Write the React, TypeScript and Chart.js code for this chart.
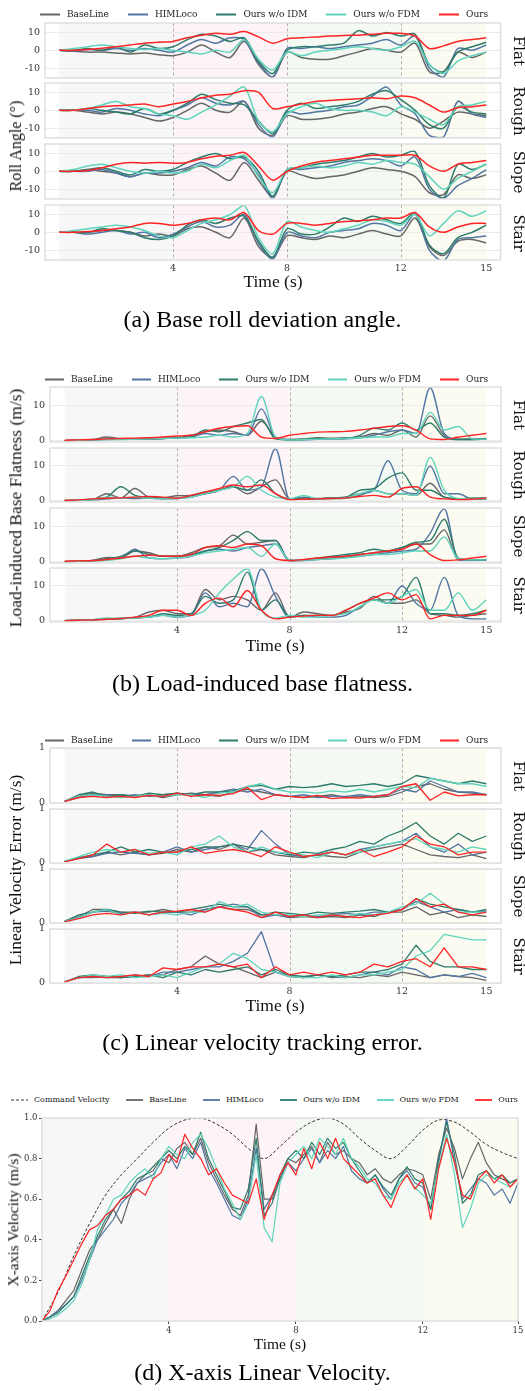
import React, { useEffect, useRef } from "react";
import { Chart, registerables } from "chart.js";
Chart.register(...registerables);

// ---------------- data ----------------
const TIME = [0, 0.5, 1, 1.5, 2, 2.5, 3, 3.5, 4, 4.5, 5, 5.5, 6, 6.5, 7, 7.5, 8, 8.5, 9, 9.5, 10, 10.5, 11, 11.5, 12, 12.5, 13, 13.5, 14, 14.5, 15];
const TIME_D = [0, 0.25, 0.5, 0.75, 1, 1.25, 1.5, 1.75, 2, 2.25, 2.5, 2.75, 3, 3.25, 3.5, 3.75, 4, 4.25, 4.5, 4.75, 5, 5.25, 5.5, 5.75, 6, 6.25, 6.5, 6.75, 7, 7.25, 7.5, 7.75, 8, 8.25, 8.5, 8.75, 9, 9.25, 9.5, 9.75, 10, 10.25, 10.5, 10.75, 11, 11.25, 11.5, 11.75, 12, 12.25, 12.5, 12.75, 13, 13.25, 13.5, 13.75, 14, 14.25, 14.5, 14.75, 15];
const X_TICKS = [4, 8, 12, 15];
const PHASES = [0, 4, 8, 12, 15];
const SERIES = ["BaseLine", "HIMLoco", "Ours w/o IDM", "Ours w/o FDM", "Ours"];
const TERRAINS = ["Flat", "Rough", "Slope", "Stair"];
const ROLL_TICKS = [-10, 0, 10];
const FLAT_TICKS = [0, 10];
const ERR_TICKS = [0, 1];
const VEL_TICKS = [0, 0.2, 0.4, 0.6, 0.8, 1.0];

// (a) roll angle (deg)
const rollFlatBase = [0, -0.5, -1, -1, -1.5, -2, -1.5, -2.5, -3, -1, 3, -1, -4, 5, -8, -15, -1, -4, -5, -5, -3, -1, 1, 0, -1, 4, -12, -12, -1, -4, -1];
const rollFlatHim = [0, -0.5, 0.5, 0, 1, 0, 1, 0, -1, 3, 6, 4, 7, 6, -7, -15, 1, 1, 2, 1, 2, 3, 4, 6, 3, 8, -10, -15, 1, 0, 3];
const rollFlatIdm = [0, 0, 1, 0, 2, -1, 3, 1, 2, 6, 9, 8, 5, 7, -6, -13, 0, 2, 2, 3, 4, 11, 8, 10, 8, 9, -8, -12, -1, 2, 4.5];
const rollFlatFdm = [0, 1, 2, 3, 2, 1, 0.5, 1, 0, -1, -2, 0, -1, 6, -5, -11, -1, -3, -1, 0, 1, 2, 1, 0, 2, 5, -8, -13, -6, -3, -1];
const rollFlatOurs = [0, 0, 0.5, 1.2, 2, 3, 4, 4.5, 5, 7, 8.5, 9.5, 9, 10.5, 7.5, 4, 6.5, 7, 7.5, 8, 8.3, 8.5, 9, 9.5, 9.5, 8, 1, 2.5, 5, 6, 7];

const rollRoughBase = [0, 0, -1, -2, -1, -2, -4, -6, -4, 0, 4, 0, -1, 5, -10, -14, -3, -5, -5, -4, -2, -1, 1, 2, -2, -5, -10, -6, -1, -2, -3];
const rollRoughHim = [0, 0, 0, -1, 1, 0, -2, -3, 0, 3, 7, 4, 3, 5, -8, -15, -1, -2, -1, 0, 2, 3, 8, 13, 3, -2, -14, -15, 5, -2, -4];
const rollRoughIdm = [0, 0, 1, 0, -1, -2, 1, -2, 0, 4, 9, 6, 4, 3, -6, -13, 0, 4, 1, 2, 3, 5, 9, 11, 6, 0, -8, -10, 2, -1, -2];
const rollRoughFdm = [0, 0, 1, 3, 5, 2, 1, -2, -3, -5, -1, 3, 8, 13, -6, -12, -2, 2, 4, 1, 0, 0, -1, -3, 2, -1, -5, -8, 2, 3, 5];
const rollRoughOurs = [0, 0, 1, 2, 2.5, 3, 3.5, 2, 3.5, 5, 7, 8.5, 9, 11, 10, 1, 2, 3.5, 5, 5.5, 6, 6.5, 7, 6.5, 8, 7, 3, -1, 1.5, 2, 3];

const rollSlopeBase = [0, 0, 1, 0, -1, -3, -1, -2, -2, 1, 3, -1, -5, 5, -5, -14, 0, -2, -4, -3, -2, 0, 2, 1, 0, -3, -12, -13, -2, -4, -2];
const rollSlopeHim = [0, 0, 0, 1, -1, -3, -1, -1, 0, 2, 5, 3, 8, 7, -2, -15, 1, 1, 2, 3, 5, 6, 7, 6, 3, 8, -10, -15, -8, -4, 1];
const rollSlopeIdm = [0, 0, 1, 2, 0, -2, 1, 0, 1, 5, 8, 10, 7, 8, 0, -14, 1, 2, 4, 5, 6, 8, 10, 8, 9, 11, -8, -15, 4, 1, 4];
const rollSlopeFdm = [0, 1, 3, 4, 2, 0, -1, 0, -1, 0, 4, 2, 6, 9, -3, -12, 1, 2, 3, 2, 3, 5, 4, 6, 5, 4, -3, -10, -4, 0, 4];
const rollSlopeOurs = [0, 0, 0.5, 2, 4, 5, 4.5, 5, 4.5, 5, 7, 8.5, 9, 10.5, 3, -5, 0, 3, 5, 6, 7, 8, 9, 9, 9, 9, 3, 0, 4, 5, 6];

const rollStairBase = [0, 0, 0, 1, 1, 0, -2, -1, -2, 2, 3, 0, -3, 8, -8, -14, -2, -3, -4, -2, -3, -1, 1, -1, -2, 8, -8, -13, -5, -4, -6];
const rollStairHim = [0, 0, -1, 0, 1, -1, 0, -3, -1, 3, 6, 3, 4, 10, -6, -15, 0, -2, -3, 0, 1, 2, 5, 4, 1, 10, -10, -16, -4, -3, -2];
const rollStairIdm = [0, 0, 0, 2, 1, 0, -3, -4, -2, 4, 7, 5, 8, 9, -5, -14, 2, -1, -1, 3, 8, 6, 9, 7, 5, 11, -7, -12, -3, 0, 4];
const rollStairFdm = [0, 1, 2, 3, 4, 3, 1, -2, -3, 1, 5, 7, 10, 15, -3, -12, 6, 3, 1, 0, 2, 4, 7, 6, 4, 10, -2, 5, 12, 9, 12];
const rollStairOurs = [0, 0, 0.5, 1, 2, 3, 5, 5, 4, 5, 7, 8, 7, 11, 1, -1, 5, 5, 4, 5, 6, 6.5, 7, 8, 8, 11, 3, 0, 3, 5, 5];

// (b) load-induced base flatness
const flatFlatBase = [0, 0.1, 0.3, 1, 0.5, 0.4, 0.5, 0.6, 0.8, 1.5, 2.5, 3, 2.5, 1.5, 5.5, 1, 0.3, 0.5, 0.8, 0.7, 0.8, 1, 2, 1.5, 3, 1, 7, 1.5, 0.4, 0.5, 0.6];
const flatFlatHim = [0, 0.1, 0.2, 0.3, 0.4, 0.5, 0.5, 0.6, 0.8, 1, 2, 1.5, 2, 1.5, 9, 1, 0.3, 0.2, 0.4, 0.5, 0.5, 0.8, 1.5, 2.5, 3, 2, 15, 2, 0.3, 0.3, 0.5];
const flatFlatIdm = [0, 0.1, 0.2, 0.5, 0.4, 0.4, 0.5, 0.6, 0.8, 1, 3, 2.5, 4, 5, 6, 0.5, 0.2, 0.3, 0.6, 0.5, 0.6, 1.5, 3.5, 3, 5, 3, 5, 1, 0.3, 0.3, 0.4];
const flatFlatFdm = [0, 0.1, 0.2, 0.3, 0.3, 0.4, 0.5, 0.6, 0.7, 0.8, 1, 1.5, 1, 2, 12.5, 1, 0.2, 0.3, 0.4, 0.5, 0.6, 0.8, 1, 1, 2, 2, 8, 3, 4, 0.5, 0.4];
const flatFlatOurs = [0.1, 0.2, 0.3, 0.5, 0.6, 0.7, 0.8, 1, 1.3, 1.5, 2.5, 3.5, 4, 4.2, 1, 0.6, 1.5, 2, 2.4, 2.5, 2.6, 3, 3.5, 4, 4.2, 3, 0.5, 0.3, 1, 1.5, 2];

const flatRoughBase = [0, 0.1, 0.3, 2, 0.8, 3.5, 1, 0.8, 1.4, 1.5, 2, 3, 4, 2, 4, 6, 0.5, 0.4, 0.5, 0.6, 0.7, 1.5, 3, 2, 2, 1.5, 5, 1, 0.5, 0.4, 0.5];
const flatRoughHim = [0, 0.1, 0.2, 0.5, 0.8, 0.6, 0.7, 0.5, 0.6, 1, 2, 3, 7, 3, 4, 15, 0.5, 1, 0.5, 0.8, 1, 2, 3, 11.5, 3, 2, 10, 2, 2, 0.5, 0.8];
const flatRoughIdm = [0, 0.1, 0.5, 1, 4, 1.5, 1, 0.8, 0.7, 1.5, 2.5, 3, 4, 3, 6, 2, 0.5, 0.8, 0.6, 0.8, 1, 3, 3.5, 6.5, 8, 3, 3, 1, 0.5, 0.8, 0.6];
const flatRoughFdm = [0, 0.1, 0.2, 1, 0.8, 1, 0.7, 0.5, 0.6, 1, 2, 3, 4, 7, 3, 1, 0.5, 1.5, 0.5, 0.6, 0.8, 2, 3, 2, 2, 1.5, 12.5, 3, 0.6, 0.5, 0.7];
const flatRoughOurs = [0.1, 0.2, 0.5, 0.7, 0.8, 1, 1.2, 1, 0.7, 1.5, 2.5, 3.5, 4.5, 4, 4.5, 2, 0.3, 0.4, 0.5, 0.6, 0.8, 1.2, 1.5, 1, 3.5, 4, 1, 0.5, 0.3, 0.4, 0.8];

const flatSlopeBase = [0, 0.1, 0.3, 1.2, 1, 3, 2.5, 1.5, 1.5, 2.5, 4, 4.5, 7.5, 5, 5.5, 6, 0.3, 0.5, 0.8, 1, 1.5, 2, 2.5, 3, 4, 5, 5, 9, 0.5, 0.5, 0.4];
const flatSlopeHim = [0, 0.1, 0.2, 0.5, 1, 3.5, 1, 0.8, 1, 1.5, 3, 3.5, 3, 4, 4.5, 5, 0.2, 0.3, 0.6, 0.8, 1.2, 1.5, 2, 2.5, 3, 3.5, 8, 15, 0.5, 0.4, 0.5];
const flatSlopeIdm = [0, 0.1, 0.3, 0.8, 1.5, 3, 2, 1.5, 1.5, 2, 3, 4, 6, 8.5, 6, 6, 0.3, 0.5, 1, 1.5, 2, 2.5, 3.5, 3, 4, 5.5, 6, 12, 1, 0.5, 0.6];
const flatSlopeFdm = [0, 0.1, 0.2, 0.4, 0.8, 1.5, 1, 0.8, 1, 1.5, 2.5, 3, 3.5, 4, 1.5, 5, 0.5, 0.4, 0.6, 0.8, 1, 1.5, 2, 2, 2.5, 3, 3, 7, 0.8, 0.5, 0.5];
const flatSlopeOurs = [0.1, 0.2, 0.3, 0.6, 1, 1.5, 1.8, 1.6, 1.5, 2, 4, 4.5, 4, 5, 4.5, 0.8, 0.3, 0.6, 1, 1.3, 1.5, 2, 2.5, 3, 3.5, 5, 2, 0.3, 0.5, 1, 1.5];

const flatStairBase = [0, 0.1, 0.2, 0.5, 0.6, 1, 2.5, 3, 2, 2, 9, 6, 7, 6, 3, 8, 1, 2.5, 2, 1.5, 2.5, 3.5, 7, 5, 5, 6, 2, 1.5, 1, 1.5, 2];
const flatStairHim = [0, 0.1, 0.2, 0.4, 0.5, 0.8, 1, 1.5, 1, 1.5, 8, 4, 5, 4, 15, 7, 1, 1.5, 1, 1, 1.5, 4, 6, 5, 10, 5, 3, 12.5, 1.5, 0.5, 0.5];
const flatStairIdm = [0, 0.1, 0.3, 0.5, 0.6, 0.8, 1, 2, 1.5, 2, 7, 5, 6, 14, 3, 6, 1.2, 1.5, 1.5, 1.5, 3, 5, 6, 6, 7, 12.5, 2, 2, 1.5, 2, 3];
const flatStairFdm = [0, 0.1, 0.3, 0.8, 0.6, 0.8, 1, 1.5, 1, 1.5, 3, 8, 12, 15, 3, 0.8, 1.5, 1, 1, 1.5, 2, 4, 6, 5, 7, 9, 3, 3, 8, 3, 6];
const flatStairOurs = [0, 0.1, 0.2, 0.4, 0.6, 1, 1.5, 3, 3, 1.5, 5, 6.5, 4, 8.7, 3, 0.5, 1, 1.3, 1.5, 1.5, 3, 5, 6.5, 8, 6, 7.5, 0.5, 1.5, 1.5, 1.5, 3];

// (c) linear velocity tracking error (m/s)
const errFlatBase = [0.03, 0.12, 0.18, 0.15, 0.15, 0.12, 0.15, 0.1, 0.15, 0.18, 0.15, 0.12, 0.2, 0.25, 0.2, 0.15, 0.12, 0.1, 0.12, 0.15, 0.1, 0.12, 0.1, 0.12, 0.2, 0.3, 0.35, 0.25, 0.2, 0.18, 0.15];
const errFlatHim = [0.03, 0.1, 0.15, 0.15, 0.12, 0.15, 0.12, 0.15, 0.18, 0.15, 0.15, 0.2, 0.25, 0.2, 0.25, 0.15, 0.12, 0.15, 0.1, 0.12, 0.12, 0.15, 0.12, 0.15, 0.25, 0.2, 0.4, 0.3, 0.2, 0.2, 0.15];
const errFlatIdm = [0.03, 0.15, 0.2, 0.12, 0.15, 0.12, 0.18, 0.15, 0.18, 0.15, 0.2, 0.2, 0.22, 0.3, 0.32, 0.25, 0.3, 0.28, 0.3, 0.35, 0.3, 0.32, 0.35, 0.3, 0.35, 0.5, 0.45, 0.4, 0.35, 0.4, 0.35];
const errFlatFdm = [0.03, 0.12, 0.15, 0.12, 0.1, 0.12, 0.15, 0.12, 0.15, 0.15, 0.1, 0.18, 0.2, 0.3, 0.35, 0.25, 0.2, 0.2, 0.18, 0.22, 0.2, 0.25, 0.2, 0.25, 0.3, 0.28, 0.45, 0.4, 0.35, 0.35, 0.3];
const errFlatOurs = [0.03, 0.1, 0.12, 0.1, 0.12, 0.1, 0.14, 0.12, 0.18, 0.12, 0.15, 0.14, 0.17, 0.28, 0.06, 0.15, 0.12, 0.1, 0.14, 0.08, 0.1, 0.09, 0.12, 0.15, 0.3, 0.35, 0.05, 0.2, 0.13, 0.15, 0.15];

const errRoughBase = [0.03, 0.08, 0.12, 0.2, 0.15, 0.2, 0.15, 0.18, 0.25, 0.2, 0.3, 0.25, 0.35, 0.2, 0.25, 0.15, 0.12, 0.1, 0.15, 0.12, 0.1, 0.2, 0.25, 0.3, 0.35, 0.25, 0.15, 0.12, 0.1, 0.15, 0.08];
const errRoughHim = [0.03, 0.1, 0.12, 0.18, 0.2, 0.18, 0.15, 0.2, 0.3, 0.2, 0.25, 0.3, 0.35, 0.25, 0.6, 0.35, 0.15, 0.12, 0.15, 0.2, 0.15, 0.25, 0.3, 0.35, 0.4, 0.55, 0.3, 0.2, 0.35, 0.15, 0.2];
const errRoughIdm = [0.03, 0.1, 0.15, 0.2, 0.3, 0.2, 0.25, 0.2, 0.2, 0.25, 0.3, 0.3, 0.35, 0.3, 0.25, 0.2, 0.15, 0.2, 0.18, 0.25, 0.3, 0.4, 0.35, 0.5, 0.6, 0.75, 0.5, 0.35, 0.55, 0.4, 0.5];
const errRoughFdm = [0.03, 0.12, 0.2, 0.25, 0.2, 0.25, 0.18, 0.2, 0.15, 0.3, 0.35, 0.5, 0.3, 0.2, 0.3, 0.2, 0.18, 0.15, 0.1, 0.2, 0.15, 0.2, 0.3, 0.35, 0.4, 0.45, 0.3, 0.25, 0.2, 0.3, 0.25];
const errRoughOurs = [0.02, 0.08, 0.15, 0.35, 0.2, 0.25, 0.15, 0.2, 0.2, 0.3, 0.18, 0.22, 0.25, 0.2, 0.12, 0.3, 0.2, 0.12, 0.15, 0.2, 0.15, 0.25, 0.12, 0.2, 0.3, 0.5, 0.35, 0.3, 0.15, 0.2, 0.2];

const errSlopeBase = [0.03, 0.12, 0.25, 0.25, 0.2, 0.2, 0.2, 0.25, 0.2, 0.2, 0.25, 0.3, 0.25, 0.25, 0.15, 0.15, 0.1, 0.12, 0.1, 0.12, 0.1, 0.15, 0.12, 0.2, 0.2, 0.3, 0.15, 0.2, 0.1, 0.15, 0.12];
const errSlopeHim = [0.03, 0.1, 0.2, 0.22, 0.18, 0.2, 0.15, 0.2, 0.2, 0.15, 0.25, 0.3, 0.35, 0.3, 0.1, 0.15, 0.12, 0.15, 0.12, 0.15, 0.18, 0.15, 0.2, 0.2, 0.25, 0.4, 0.3, 0.2, 0.25, 0.2, 0.22];
const errSlopeIdm = [0.03, 0.15, 0.2, 0.25, 0.2, 0.18, 0.22, 0.2, 0.2, 0.25, 0.3, 0.35, 0.3, 0.3, 0.15, 0.2, 0.18, 0.15, 0.2, 0.18, 0.2, 0.22, 0.25, 0.2, 0.25, 0.45, 0.35, 0.3, 0.25, 0.2, 0.25];
const errSlopeFdm = [0.03, 0.1, 0.2, 0.25, 0.15, 0.2, 0.15, 0.18, 0.15, 0.2, 0.2, 0.4, 0.3, 0.35, 0.2, 0.15, 0.15, 0.12, 0.15, 0.15, 0.12, 0.18, 0.15, 0.2, 0.3, 0.35, 0.55, 0.35, 0.2, 0.2, 0.2];
const errSlopeOurs = [0.02, 0.08, 0.15, 0.18, 0.15, 0.2, 0.15, 0.2, 0.22, 0.25, 0.2, 0.3, 0.25, 0.2, 0.1, 0.2, 0.12, 0.15, 0.1, 0.15, 0.12, 0.1, 0.15, 0.18, 0.25, 0.45, 0.3, 0.35, 0.2, 0.15, 0.2];

const errStairBase = [0.02, 0.1, 0.12, 0.1, 0.1, 0.12, 0.15, 0.15, 0.25, 0.3, 0.5, 0.35, 0.3, 0.2, 0.1, 0.2, 0.12, 0.1, 0.15, 0.1, 0.12, 0.1, 0.15, 0.12, 0.2, 0.15, 0.1, 0.15, 0.12, 0.1, 0.05];
const errStairHim = [0.02, 0.1, 0.1, 0.12, 0.1, 0.15, 0.12, 0.2, 0.2, 0.25, 0.3, 0.3, 0.4, 0.55, 0.95, 0.2, 0.15, 0.1, 0.15, 0.12, 0.1, 0.15, 0.2, 0.15, 0.3, 0.25, 0.1, 0.15, 0.12, 0.18, 0.1];
const errStairIdm = [0.02, 0.12, 0.15, 0.12, 0.1, 0.12, 0.15, 0.1, 0.2, 0.15, 0.25, 0.2, 0.25, 0.3, 0.15, 0.25, 0.15, 0.12, 0.15, 0.12, 0.15, 0.2, 0.2, 0.25, 0.35, 0.7, 0.4, 0.3, 0.3, 0.25, 0.25];
const errStairFdm = [0.02, 0.1, 0.15, 0.12, 0.15, 0.1, 0.12, 0.15, 0.1, 0.2, 0.3, 0.35, 0.55, 0.45, 0.25, 0.2, 0.12, 0.1, 0.1, 0.15, 0.1, 0.15, 0.15, 0.2, 0.25, 0.5, 0.6, 0.9, 0.85, 0.8, 0.8];
const errStairOurs = [0.02, 0.1, 0.12, 0.1, 0.12, 0.15, 0.12, 0.28, 0.25, 0.3, 0.3, 0.35, 0.3, 0.35, 0.1, 0.3, 0.15, 0.2, 0.15, 0.2, 0.15, 0.2, 0.35, 0.3, 0.4, 0.45, 0.3, 0.65, 0.3, 0.3, 0.25];

// (d) x-axis linear velocity (m/s)
const velCommand = [0, 0.14, 0.32, 0.48, 0.62, 0.72, 0.8, 0.88, 0.95, 0.99, 1.0, 0.97, 0.92, 0.85, 0.8, 0.86, 0.93, 0.98, 1.0, 0.97, 0.9, 0.84, 0.8, 0.86, 0.94, 0.99, 0.98, 0.93, 0.87, 0.83, 0.8];
const velBase = [0, 0.02, 0.05, 0.1, 0.15, 0.25, 0.35, 0.4, 0.48, 0.55, 0.48, 0.6, 0.68, 0.72, 0.74, 0.8, 0.78, 0.85, 0.88, 0.82, 0.9, 0.78, 0.7, 0.62, 0.55, 0.52, 0.62, 0.97, 0.6, 0.6, 0.72, 0.8, 0.78, 0.82, 0.86, 0.78, 0.88, 0.82, 0.84, 0.8, 0.78, 0.72, 0.75, 0.7, 0.68, 0.72, 0.75, 0.74, 0.72, 0.6, 0.82, 0.95, 0.85, 0.7, 0.8, 0.88, 0.78, 0.72, 0.7, 0.68, 0.7];
const velHim = [0, 0.02, 0.05, 0.08, 0.12, 0.2, 0.3, 0.4, 0.45, 0.5, 0.58, 0.62, 0.68, 0.7, 0.72, 0.78, 0.82, 0.75, 0.85, 0.8, 0.88, 0.75, 0.68, 0.6, 0.52, 0.5, 0.6, 0.85, 0.55, 0.62, 0.7, 0.78, 0.74, 0.8, 0.85, 0.78, 0.84, 0.8, 0.86, 0.74, 0.7, 0.68, 0.72, 0.65, 0.6, 0.7, 0.74, 0.68, 0.66, 0.55, 0.78, 1.0, 0.78, 0.6, 0.65, 0.7, 0.68, 0.62, 0.65, 0.58, 0.68];
const velIdm = [0, 0.02, 0.04, 0.08, 0.12, 0.22, 0.32, 0.42, 0.5, 0.55, 0.6, 0.64, 0.7, 0.72, 0.76, 0.8, 0.84, 0.8, 0.86, 0.82, 0.93, 0.8, 0.72, 0.64, 0.56, 0.55, 0.65, 0.9, 0.52, 0.58, 0.7, 0.8, 0.84, 0.8, 0.88, 0.82, 0.9, 0.85, 0.88, 0.8, 0.74, 0.68, 0.72, 0.66, 0.62, 0.7, 0.76, 0.7, 0.68, 0.55, 0.8, 0.98, 0.82, 0.58, 0.62, 0.72, 0.74, 0.7, 0.72, 0.68, 0.7];
const velFdm = [0, 0.01, 0.03, 0.06, 0.1, 0.18, 0.3, 0.45, 0.52, 0.6, 0.62, 0.68, 0.72, 0.75, 0.7, 0.8, 0.86, 0.82, 0.8, 0.88, 0.92, 0.85, 0.75, 0.65, 0.58, 0.5, 0.58, 0.82, 0.46, 0.39, 0.68, 0.78, 0.82, 0.86, 0.8, 0.9, 0.86, 0.82, 0.9, 0.8, 0.76, 0.7, 0.68, 0.62, 0.6, 0.68, 0.72, 0.66, 0.62, 0.58, 0.76, 0.92, 0.72, 0.46, 0.55, 0.68, 0.72, 0.7, 0.68, 0.66, 0.7];
const velOurs = [0, 0.05, 0.15, 0.22, 0.3, 0.38, 0.45, 0.47, 0.52, 0.55, 0.6, 0.62, 0.65, 0.62, 0.7, 0.73, 0.82, 0.78, 0.92, 0.85, 0.8, 0.72, 0.75, 0.68, 0.62, 0.6, 0.58, 0.7, 0.5, 0.62, 0.72, 0.78, 0.72, 0.85, 0.75, 0.88, 0.8, 0.9, 0.8, 0.76, 0.72, 0.68, 0.7, 0.62, 0.56, 0.66, 0.72, 0.65, 0.7, 0.5, 0.75, 0.9, 0.78, 0.62, 0.6, 0.7, 0.74, 0.68, 0.72, 0.66, 0.7];

const ROLL = [
  [rollFlatBase, rollFlatHim, rollFlatIdm, rollFlatFdm, rollFlatOurs],
  [rollRoughBase, rollRoughHim, rollRoughIdm, rollRoughFdm, rollRoughOurs],
  [rollSlopeBase, rollSlopeHim, rollSlopeIdm, rollSlopeFdm, rollSlopeOurs],
  [rollStairBase, rollStairHim, rollStairIdm, rollStairFdm, rollStairOurs],
];
const FLATNESS = [
  [flatFlatBase, flatFlatHim, flatFlatIdm, flatFlatFdm, flatFlatOurs],
  [flatRoughBase, flatRoughHim, flatRoughIdm, flatRoughFdm, flatRoughOurs],
  [flatSlopeBase, flatSlopeHim, flatSlopeIdm, flatSlopeFdm, flatSlopeOurs],
  [flatStairBase, flatStairHim, flatStairIdm, flatStairFdm, flatStairOurs],
];
const ERRORS = [
  [errFlatBase, errFlatHim, errFlatIdm, errFlatFdm, errFlatOurs],
  [errRoughBase, errRoughHim, errRoughIdm, errRoughFdm, errRoughOurs],
  [errSlopeBase, errSlopeHim, errSlopeIdm, errSlopeFdm, errSlopeOurs],
  [errStairBase, errStairHim, errStairIdm, errStairFdm, errStairOurs],
];
const VELOCITY = [velBase, velHim, velIdm, velFdm, velOurs];

// ---------------- style ----------------
const W = 525;
const H = 1391;
const LINE_COLORS = ["#666666", "#5176a3", "#2e7c6c", "#5fd4bb", "#ff2424"];
const CMD_COLOR = "#333333";
const BAND_COLORS = ["#f7f7f7", "#fdf4f7", "#f4faf3", "#fbfbf1"];
const BOX_COLOR = "#dddddd";
const TICK_COLOR = "#333333";
const TICK_FONT = "'DejaVu Serif', serif";
const LABEL_FONT = "'Liberation Serif', 'Times New Roman', serif";
const PAD = 10;

type Line = { label: string; times: number[]; values: number[]; color: string; width: number; dash?: number[]; tension: number; mono?: boolean; order: number };
type Spec = {
  top: number; bottom: number; left: number; right: number;
  xMin: number; xMax: number; yMin: number; yMax: number;
  yTicks: number[]; fmt: (v: number) => string;
  showX: boolean; xAxisH: number; tickSize: number; yPad: number; xPad: number;
  tickMarks: boolean; gridY: boolean; dashed: boolean; lines: Line[];
};

function seriesLines(vals: number[][], times: number[], width: number, tension: number, mono: boolean): Line[] {
  return vals.map((v, i) => ({ label: SERIES[i], times, values: v, color: LINE_COLORS[i], width, tension, mono, order: 4 - i }));
}

function Panel({ spec }: { spec: Spec }) {
  const ref = useRef<HTMLCanvasElement | null>(null);
  const h = spec.bottom - spec.top + PAD + (spec.showX ? spec.xAxisH : PAD);
  useEffect(() => {
    if (!ref.current) return;
    const decor = {
      id: "decor",
      beforeDraw(chart: any) {
        const { ctx, chartArea: a } = chart;
        const x = chart.scales.x;
        ctx.save();
        for (let i = 0; i < 4; i++) {
          const x0 = x.getPixelForValue(PHASES[i]);
          const x1 = x.getPixelForValue(PHASES[i + 1]);
          ctx.fillStyle = BAND_COLORS[i];
          ctx.fillRect(x0, a.top, x1 - x0, a.bottom - a.top);
        }
        ctx.restore();
      },
      beforeDatasetsDraw(chart: any) {
        if (!spec.dashed) return;
        const { ctx, chartArea: a } = chart;
        const x = chart.scales.x;
        ctx.save();
        ctx.strokeStyle = "#a8a8a8";
        ctx.lineWidth = 0.9;
        ctx.setLineDash([3, 2.5]);
        for (let i = 1; i < 4; i++) {
          const px = Math.round(x.getPixelForValue(PHASES[i])) + 0.5;
          ctx.beginPath();
          ctx.moveTo(px, a.top);
          ctx.lineTo(px, a.bottom);
          ctx.stroke();
        }
        ctx.restore();
      },
      afterDatasetsDraw(chart: any) {
        const { ctx, chartArea: a } = chart;
        ctx.save();
        ctx.strokeStyle = BOX_COLOR;
        ctx.lineWidth = 1.4;
        ctx.strokeRect(a.left, a.top, a.right - a.left, a.bottom - a.top);
        ctx.restore();
      },
    };
    const chart = new Chart(ref.current, {
      type: "line",
      data: {
        datasets: spec.lines.map((s) => ({
          label: s.label,
          data: s.times.map((t, j) => ({ x: t, y: s.values[j] })),
          borderColor: s.color,
          backgroundColor: s.color,
          borderWidth: s.width,
          borderDash: s.dash || [],
          pointRadius: 0,
          pointHoverRadius: 0,
          fill: false,
          tension: s.tension,
          cubicInterpolationMode: s.mono ? "monotone" : "default",
          order: s.order,
          clip: 0,
          borderJoinStyle: "round",
        })),
      },
      options: {
        animation: false,
        responsive: false,
        maintainAspectRatio: false,
        devicePixelRatio: 1,
        events: [],
        layout: { padding: { left: 0, right: W - spec.right, top: PAD, bottom: spec.showX ? 0 : PAD } },
        plugins: { legend: { display: false }, tooltip: { enabled: false }, title: { display: false } },
        scales: {
          x: {
            type: "linear",
            min: spec.xMin,
            max: spec.xMax,
            display: spec.showX,
            afterBuildTicks: (s: any) => { s.ticks = X_TICKS.map((v) => ({ value: v })); },
            afterFit: (s: any) => { if (spec.showX) s.height = spec.xAxisH; s.paddingLeft = 0; s.paddingRight = 0; },
            ticks: { font: { family: TICK_FONT, size: spec.tickSize }, color: TICK_COLOR, padding: spec.xPad, maxRotation: 0, autoSkip: false, callback: (v: any) => String(v) },
            grid: { display: spec.tickMarks, drawOnChartArea: false, drawTicks: spec.tickMarks, tickLength: 3, tickColor: "#444", color: "#444" },
            border: { display: false },
          },
          y: {
            type: "linear",
            min: spec.yMin,
            max: spec.yMax,
            afterBuildTicks: (s: any) => { s.ticks = spec.yTicks.map((v) => ({ value: v })); },
            afterFit: (s: any) => { s.width = spec.left; s.paddingTop = 0; s.paddingBottom = 0; },
            ticks: { font: { family: TICK_FONT, size: spec.tickSize }, color: TICK_COLOR, padding: spec.yPad, autoSkip: false, callback: (v: any) => spec.fmt(Number(v)) },
            grid: { display: true, drawOnChartArea: spec.gridY, drawTicks: spec.tickMarks, tickLength: 3, tickColor: "#444", color: "#ebebeb", lineWidth: 1 },
            border: { display: false },
          },
        },
      },
      plugins: [decor],
    } as any);
    return () => chart.destroy();
  }, []);
  return (
    <canvas
      ref={ref}
      width={W}
      height={h}
      style={{ position: "absolute", left: 0, top: spec.top - PAD, width: W, height: h }}
    />
  );
}

function Txt({ x, y, size, family, rotate = 0, children, color = "#111" }: any) {
  return (
    <div
      style={{
        position: "absolute",
        left: x,
        top: y,
        transform: `translate(-50%, -50%) rotate(${rotate}deg)`,
        whiteSpace: "nowrap",
        fontFamily: family,
        fontSize: size,
        lineHeight: 1,
        color,
      }}
    >
      {children}
    </div>
  );
}

function Legend({ cy, left, size, lineW, gapLT, gapItem, items }: any) {
  return (
    <div
      style={{
        position: "absolute",
        left,
        top: cy,
        transform: "translateY(-50%)",
        display: "flex",
        alignItems: "center",
        whiteSpace: "nowrap",
        fontFamily: TICK_FONT,
        fontSize: size,
        color: "#222",
        lineHeight: 1,
      }}
    >
      {items.map((it: any, i: number) => (
        <div key={i} style={{ display: "flex", alignItems: "center", marginRight: gapItem }}>
          <svg width={lineW} height={4} style={{ display: "block" }}>
            <line x1={0} y1={2} x2={lineW} y2={2} stroke={it.color} strokeWidth={it.w} strokeDasharray={it.dash ? it.dash.join(",") : undefined} />
          </svg>
          <span style={{ marginLeft: gapLT }}>{it.label}</span>
        </div>
      ))}
    </div>
  );
}

const seriesItems = SERIES.map((s, i) => ({ label: s, color: LINE_COLORS[i], w: 2 }));

type FigDef = {
  rows: number[][]; left: number; right: number; xMin: number; xMax: number; yMin: number; yMax: number;
  yTicks: number[]; data: number[][][]; width: number; tension: number; mono: boolean;
};

function figurePanels(f: FigDef): Spec[] {
  return f.rows.map((r, k) => ({
    top: r[0], bottom: r[1], left: f.left, right: f.right,
    xMin: f.xMin, xMax: f.xMax, yMin: f.yMin, yMax: f.yMax,
    yTicks: f.yTicks, fmt: (v: number) => String(v),
    showX: k === 3, xAxisH: 20, tickSize: 9.5, yPad: 5, xPad: 3,
    tickMarks: false, gridY: true, dashed: true,
    lines: seriesLines(f.data[k], TIME, f.width, f.tension, f.mono),
  }));
}

const FIG_A: FigDef = { rows: [[23, 78], [83, 138], [144, 199], [205, 260]], left: 45, right: 500.5, xMin: -0.5, xMax: 15.5, yMin: -15.5, yMax: 15.3, yTicks: ROLL_TICKS, data: ROLL, width: 1.5, tension: 0.3, mono: false };
const FIG_B: FigDef = { rows: [[387, 442], [448, 502], [508, 563], [568, 622]], left: 50, right: 501, xMin: -0.52, xMax: 15.52, yMin: -0.4, yMax: 15.2, yTicks: FLAT_TICKS, data: FLATNESS, width: 1.4, tension: 0, mono: true };
const FIG_C: FigDef = { rows: [[748, 803], [809, 863], [869, 923], [929, 983]], left: 50, right: 501, xMin: -0.52, xMax: 15.52, yMin: 0, yMax: 1, yTicks: ERR_TICKS, data: ERRORS, width: 1.3, tension: 0, mono: false };

const SPEC_D: Spec = {
  top: 1117.5, bottom: 1320.5, left: 42, right: 518,
  xMin: 0, xMax: 15, yMin: 0, yMax: 1, yTicks: VEL_TICKS, fmt: (v: number) => v.toFixed(1),
  showX: true, xAxisH: 18, tickSize: 8.5, yPad: 1.5, xPad: 2,
  tickMarks: true, gridY: false, dashed: false,
  lines: [
    { label: "Command Velocity", times: TIME, values: velCommand, color: CMD_COLOR, width: 1, dash: [3, 2], tension: 0.35, order: 5 },
    ...seriesLines(VELOCITY, TIME_D, 1.2, 0, false),
  ],
};

function StackedFigure({ f, ylabel, ylabelY, ylabelSize, legendY, legendLeft, legendLineW, timeY, timeX, caption, captionY }: any) {
  const specs = figurePanels(f);
  return (
    <>
      {specs.map((s, i) => <Panel key={i} spec={s} />)}
      <Legend cy={legendY} left={legendLeft} size={9} lineW={legendLineW} gapLT={7} gapItem={19} items={seriesItems} />
      {f.rows.map((r: number[], i: number) => (
        <Txt key={i} x={518} y={(r[0] + r[1]) / 2} size={15} family={TICK_FONT} rotate={90}>{TERRAINS[i]}</Txt>
      ))}
      <Txt x={16} y={ylabelY} size={ylabelSize} family={LABEL_FONT} rotate={-90}>{ylabel}</Txt>
      <Txt x={timeX} y={timeY} size={17.5} family={LABEL_FONT}>Time (s)</Txt>
      <Txt x={262.5} y={captionY} size={24} family={LABEL_FONT} color="#000">{caption}</Txt>
    </>
  );
}

export default function App() {
  const dItems = [
    { label: "Command Velocity", color: CMD_COLOR, w: 1.2, dash: [3, 2] },
    ...SERIES.map((s, i) => ({ label: s, color: LINE_COLORS[i], w: 1.8 })),
  ];
  return (
    <div style={{ position: "absolute", left: 0, top: 0, width: W, height: H, overflow: "hidden", background: "#fff" }}>
      <StackedFigure f={FIG_A} ylabel="Roll Angle (°)" ylabelY={146} ylabelSize={16} legendY={14} legendLeft={40} legendLineW={20}
        timeY={281.5} timeX={273} caption="(a) Base roll deviation angle." captionY={319} />
      <StackedFigure f={FIG_B} ylabel="Load-induced Base Flatness (m/s)" ylabelY={508} ylabelSize={17.5} legendY={379} legendLeft={45} legendLineW={19}
        timeY={646} timeX={275} caption="(b) Load-induced base flatness." captionY={683} />
      <StackedFigure f={FIG_C} ylabel="Linear Velocity Error (m/s)" ylabelY={870} ylabelSize={17.5} legendY={740} legendLeft={45} legendLineW={19}
        timeY={1006} timeX={275} caption="(c) Linear velocity tracking error." captionY={1042} />
      <Panel spec={SPEC_D} />
      <Legend cy={1100} left={11} size={8} lineW={17} gapLT={6} gapItem={16.5} items={dItems} />
      <Txt x={13} y={1220} size={15.5} family={LABEL_FONT} rotate={-90}>X-axis Velocity (m/s)</Txt>
      <Txt x={280} y={1344} size={15.5} family={LABEL_FONT}>Time (s)</Txt>
      <Txt x={262.5} y={1372} size={24} family={LABEL_FONT} color="#000">(d) X-axis Linear Velocity.</Txt>
    </div>
  );
}
